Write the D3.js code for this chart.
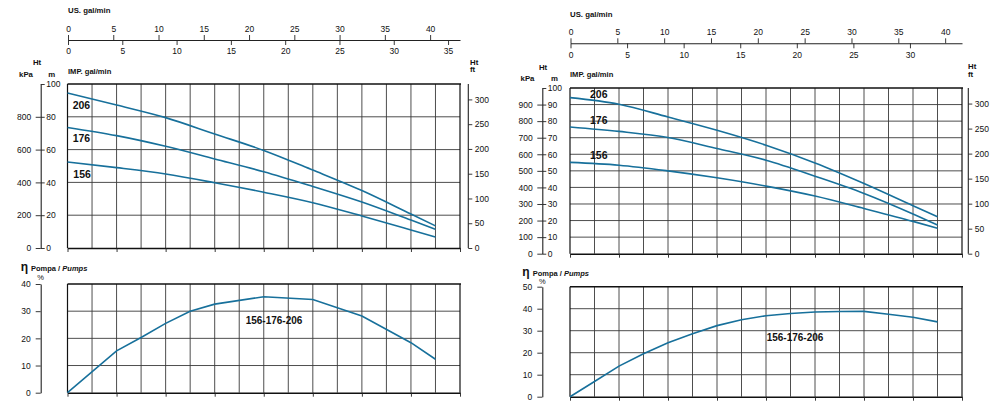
<!DOCTYPE html>
<html><head><meta charset="utf-8">
<script src="https://cdn.jsdelivr.net/npm/d3@7"></script>
<style>
html,body{margin:0;padding:0;background:#fff;}
svg{display:block;font-family:"Liberation Sans",Arial,Helvetica,sans-serif;}
</style></head><body>
<svg id="c" width="1000" height="408"></svg>
<script>
// ---------- DATA ----------
const seriesNames = ["206", "176", "156"];
const curveFlow = [0, 20, 40, 60, 80, 100, 120, 140, 150];          // base flow (grid units x10)
const left206  = [94.5, 87.2, 79.5, 69.5, 59.5, 47.5, 35.0, 20.7, 13.5];
const left176  = [73.5, 68.5, 62.0, 54.3, 46.5, 37.5, 28.0, 17.0, 11.4];
const left156  = [52.4, 49.0, 45.1, 39.8, 34.0, 27.6, 19.5, 11.0, 6.7];
const right206 = [94.2, 90.2, 82.5, 74.5, 65.5, 54.8, 42.4, 29.0, 22.3];
const right176 = [76.5, 73.8, 70.1, 63.5, 56.4, 46.8, 36.4, 24.0, 17.3];
const right156 = [55.1, 53.4, 50.0, 45.8, 40.8, 34.8, 27.3, 19.5, 15.3];

const leftEffFlow  = [0, 20, 30, 40, 50, 60, 80, 100, 120, 140, 150];
const leftEff      = [0, 15.4, 20.3, 25.5, 30.0, 32.6, 35.3, 34.3, 28.2, 18.4, 12.3];
const rightEffFlow = [0, 10, 20, 30, 40, 50, 60, 70, 80, 90, 100, 110, 120, 130, 140, 150];
const rightEff     = [0, 6.9, 13.9, 19.5, 24.5, 28.6, 32.3, 35.0, 36.8, 37.8, 38.5, 38.7, 38.8, 37.5, 36.1, 34.0];

const usTicksL  = [0, 5, 10, 15, 20, 25, 30, 35, 40];
const impTicksL = [0, 5, 10, 15, 20, 25, 30, 35];
const usTicksR  = [0, 5, 10, 15, 20, 25, 30, 35, 40];
const impTicksR = [0, 5, 10, 15, 20, 25, 30];
const kpaTicksL = [0, 200, 400, 600, 800];
const mTicksL   = [0, 20, 40, 60, 80, 100];
const kpaTicksR = [0, 100, 200, 300, 400, 500, 600, 700, 800, 900];
const mTicksR   = [0, 10, 20, 30, 40, 50, 60, 70, 80, 90, 100];
const ftTicks   = [0, 50, 100, 150, 200, 250, 300];
const effTicksL = [0, 10, 20, 30, 40];
const effTicksR = [0, 10, 20, 30, 40, 50];
const gridFlow  = [10, 20, 30, 40, 50, 60, 70, 80, 90, 100, 110, 120, 130, 140, 150];
const bottomTickFlow = [0, 20, 40, 60, 80, 100, 120, 140, 160];

// ---------- LAYOUT ----------
const BLUE = "#17709b";
const M_PER_FT = 0.302;
const panels = [
  { x0: 67.5, x1: 460, topY: 40, usMax: 43.3, impMax: 36.1, usTicks: usTicksL, impTicks: impTicksL,
    usLabel: [68, 12.5], impLabel: [68, 73.5], htL: [37, 65], kpaL: [26, 76.7], mL: [51.7, 76.7],
    htR: [470, 64.5], ftR: [470, 72],
    mainB: 248, mainT: 84, axX: 40.7, ftX: 468.3, kpaTicks: kpaTicksL, mTicks: mTicksL,
    series: [left206, left176, left156], labels: [[72.7, 109], [72.7, 142.3], [73.3, 177.7]],
    effB: 392.7, effT: 284, effMax: 40, effTicks: effTicksL, effFlow: leftEffFlow, eff: leftEff,
    effLabel: [274, 324], etaY: 271, pctY: 280 },
  { x0: 570, x1: 962, topY: 43.3, usMax: 41.8, impMax: 34.6, usTicks: usTicksR, impTicks: impTicksR,
    usLabel: [570, 16.5], impLabel: [570, 77.3], htL: [543, 70], kpaL: [527.5, 81], mL: [554.5, 81],
    htR: [968, 69], ftR: [968, 76.7],
    mainB: 253.7, mainT: 88, axX: 542.3, ftX: 968.3, kpaTicks: kpaTicksR, mTicks: mTicksR,
    series: [right206, right176, right156], labels: [[590, 98.3], [590, 124.3], [590, 159.3]],
    effB: 396.7, effT: 286.7, effMax: 50, effTicks: effTicksR, effFlow: rightEffFlow, eff: rightEff,
    effLabel: [795, 341], etaY: 276, pctY: 284 }
];

const svg = d3.select("#c");
const TICK_FONT = 8.5;

function styleAxis(g) {
  g.attr("font-family", null).attr("font-size", null);
  g.selectAll("text").attr("font-size", TICK_FONT).attr("fill", "#111");
  g.selectAll("line").attr("stroke", "#222").attr("stroke-width", 0.9);
  g.selectAll("path.domain").attr("stroke", "#222").attr("stroke-width", 1.1);
}

function txt(x, y, s, opt = {}) {
  return svg.append("text").attr("x", x).attr("y", y).text(s)
    .attr("font-size", opt.size || 8).attr("font-weight", opt.weight || "bold")
    .attr("text-anchor", opt.anchor || "start").attr("fill", "#111");
}

panels.forEach(p => {
  const fx = d3.scaleLinear().domain([0, 160]).range([p.x0, p.x1]);
  const usX = d3.scaleLinear().domain([0, p.usMax]).range([p.x0 + 0.5, p.x1]);
  const impX = d3.scaleLinear().domain([0, p.impMax]).range([p.x0 + 0.5, p.x1]);

  // ---- top dual flow axis ----
  svg.append("g").attr("transform", `translate(0,${p.topY})`)
    .call(d3.axisTop(usX).tickValues(p.usTicks).tickSize(5).tickSizeOuter(0).tickPadding(3))
    .call(styleAxis);
  svg.append("g").attr("transform", `translate(0,${p.topY})`)
    .call(d3.axisBottom(impX).tickValues(p.impTicks).tickSize(5).tickSizeOuter(0).tickPadding(3.3))
    .call(g => g.select(".domain").remove())
    .call(styleAxis);
  txt(p.usLabel[0], p.usLabel[1], "US. gal/min", { size: 7.8 });
  txt(p.impLabel[0], p.impLabel[1], "IMP. gal/min", { size: 7.6 });
  txt(p.htL[0], p.htL[1], "Ht", { size: 7.8, anchor: "middle" });
  txt(p.kpaL[0], p.kpaL[1], "kPa", { size: 7.8, anchor: "middle" });
  txt(p.mL[0], p.mL[1], "m", { size: 7.8, anchor: "middle" });
  txt(p.htR[0], p.htR[1], "Ht", { size: 7.8 });
  txt(p.ftR[0], p.ftR[1], "ft", { size: 7.8 });

  // ---- head chart ----
  const my = d3.scaleLinear().domain([0, 100]).range([p.mainB, p.mainT]);
  const ky = d3.scaleLinear().domain([0, 1000]).range([p.mainB, p.mainT]);
  const fty = d3.scaleLinear().domain([0, 100 / M_PER_FT]).range([p.mainB, p.mainT]);

  const gridM = p.mTicks.filter(v => v > 0 && v < 100);
  const gm = svg.append("g");
  gm.selectAll("line.v").data(gridFlow).join("line")
    .attr("x1", d => fx(d)).attr("x2", d => fx(d)).attr("y1", p.mainT).attr("y2", p.mainB)
    .attr("stroke", "#3a3a3a").attr("stroke-width", 0.9);
  gm.selectAll("line.h").data(gridM).join("line")
    .attr("x1", p.x0).attr("x2", p.x1).attr("y1", d => my(d)).attr("y2", d => my(d))
    .attr("stroke", "#3a3a3a").attr("stroke-width", 0.9);

  // frame
  svg.append("line").attr("x1", p.x0).attr("x2", p.x0).attr("y1", p.mainT).attr("y2", p.mainB).attr("stroke", "#111").attr("stroke-width", 1.2);
  svg.append("line").attr("x1", p.x1).attr("x2", p.x1).attr("y1", p.mainT).attr("y2", p.mainB).attr("stroke", "#111").attr("stroke-width", 1.2);
  svg.append("line").attr("x1", p.x0).attr("x2", p.x1 + 1).attr("y1", p.mainT).attr("y2", p.mainT).attr("stroke", "#111").attr("stroke-width", 1.6);
  svg.append("g").attr("transform", `translate(0,${p.mainB})`)
    .call(d3.axisBottom(fx).tickValues(bottomTickFlow).tickSize(4).tickSizeOuter(0).tickFormat(""))
    .call(styleAxis)
    .call(g => g.select(".domain").attr("stroke", "#111").attr("stroke-width", 1.6));

  // left axes kPa / m
  svg.append("g").attr("transform", `translate(${p.axX},0)`)
    .call(d3.axisLeft(ky).tickValues(p.kpaTicks).tickSize(5).tickSizeOuter(0).tickPadding(4.5))
    .call(styleAxis);
  svg.append("g").attr("transform", `translate(${p.axX},0)`)
    .call(d3.axisRight(my).tickValues(p.mTicks).tickSize(4).tickSizeOuter(0).tickPadding(1.5))
    .call(g => g.select(".domain").remove())
    .call(styleAxis);
  // right axis ft
  svg.append("g").attr("transform", `translate(${p.ftX},0)`)
    .call(d3.axisRight(fty).tickValues(ftTicks).tickSize(4).tickSizeOuter(0).tickPadding(2.5))
    .call(styleAxis)
    .call(g => g.select(".domain").attr("d", `M0,${p.mainT}V${p.mainB}`));

  const line = d3.line().x((d, i) => fx(curveFlow[i])).y(d => my(d)).curve(d3.curveMonotoneX);
  p.series.forEach((s, i) => {
    svg.append("path").attr("d", line(s)).attr("fill", "none")
      .attr("stroke", BLUE).attr("stroke-width", 1.6);
    txt(p.labels[i][0], p.labels[i][1], seriesNames[i], { size: 10.5 });
  });

  // ---- efficiency chart ----
  const ey = d3.scaleLinear().domain([0, p.effMax]).range([p.effB, p.effT]);
  const ge = svg.append("g");
  ge.selectAll("line.v").data(gridFlow).join("line")
    .attr("x1", d => fx(d)).attr("x2", d => fx(d)).attr("y1", p.effT).attr("y2", p.effB)
    .attr("stroke", "#3a3a3a").attr("stroke-width", 0.9);
  ge.selectAll("line.h").data(p.effTicks.filter(v => v > 0 && v < p.effMax)).join("line")
    .attr("x1", p.x0).attr("x2", p.x1).attr("y1", d => ey(d)).attr("y2", d => ey(d))
    .attr("stroke", "#3a3a3a").attr("stroke-width", 0.9);
  svg.append("line").attr("x1", p.x0).attr("x2", p.x0).attr("y1", p.effT).attr("y2", p.effB).attr("stroke", "#111").attr("stroke-width", 1.2);
  svg.append("line").attr("x1", p.x1).attr("x2", p.x1).attr("y1", p.effT).attr("y2", p.effB).attr("stroke", "#111").attr("stroke-width", 1.2);
  svg.append("line").attr("x1", p.x0).attr("x2", p.x1 + 1).attr("y1", p.effT).attr("y2", p.effT).attr("stroke", "#111").attr("stroke-width", 1.6);
  svg.append("g").attr("transform", `translate(0,${p.effB})`)
    .call(d3.axisBottom(fx).tickValues(bottomTickFlow).tickSize(4).tickSizeOuter(0).tickFormat(""))
    .call(styleAxis)
    .call(g => g.select(".domain").attr("stroke", "#111").attr("stroke-width", 1.6));
  svg.append("g").attr("transform", `translate(${p.axX},0)`)
    .call(d3.axisLeft(ey).tickValues(p.effTicks).tickSize(5).tickSizeOuter(0).tickPadding(5))
    .call(styleAxis);

  const eline = d3.line().x((d, i) => fx(p.effFlow[i])).y(d => ey(d));
  svg.append("path").attr("d", eline(p.eff)).attr("fill", "none")
    .attr("stroke", BLUE).attr("stroke-width", 1.6);
  txt(p.effLabel[0], p.effLabel[1], "156-176-206", { size: 10, anchor: "middle" });

  // eta header
  const eta = svg.append("text").attr("x", p.axX - 20).attr("y", p.etaY).attr("fill", "#111").attr("font-weight", "bold");
  eta.append("tspan").attr("font-size", 12).text("η");
  eta.append("tspan").attr("font-size", 7.5).attr("dx", 3).text("Pompa / ");
  eta.append("tspan").attr("font-size", 7.5).attr("font-style", "italic").text("Pumps");
  txt(p.axX, p.pctY, "%", { size: 7.5, anchor: "middle", weight: "normal" });
});
</script>
</body></html>
